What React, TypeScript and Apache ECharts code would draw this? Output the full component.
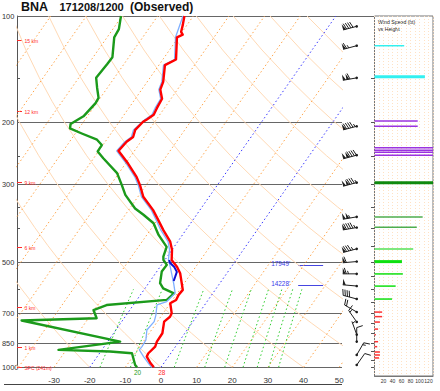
import React, { useEffect, useRef } from 'react';
import * as echarts from 'echarts';

const FONT = '"Liberation Sans", Arial, Helvetica, sans-serif';

// ---------- skew-T scale constants ----------
const SKEW = 30; // °C of x-shift per ln(1000/p)
const X_MIN = -40.4;
const X_MAX = 50.8;

// ---------- axis / reference values ----------
const pressureLevels = [100, 200, 300, 500, 700, 850, 1000];
const minorPressureTicks = [150, 250, 350, 400, 600];
const temperatureTicks = [-30, -20, -10, 0, 10, 20, 30, 40, 50];
const heightLabels = ['15 km', '12 km', '9 km', '6 km', '3 km', '1 km', 'SFC (241m)'];
const heightPressures = [117, 187, 297, 454, 674, 877, 997];
const isotherms = [-110, -100, -90, -80, -70, -60, -50, -40, -30, -10, 10, 20, 30, 40, 50];
const highlightIsotherms = [-20, 0];
const dryAdiabats = [-40, -20, 0, 20, 40, 60, 80, 100, 120, 140, 160, 180, 200, 220]; // theta °C
const adiabatSamples = [1000, 950, 900, 850, 800, 750, 700, 650, 600, 550, 500, 450, 400, 350, 300, 250, 200, 175, 150, 125, 100];
const mixingRatios = [1, 2, 5, 9, 13, 18, 23, 28, 33]; // g/kg
const mixingSamples = [1000, 900, 800, 700, 600];

// ---------- sounding (hPa, °C) ----------
const temperature = [
  [100, -62.5], [106, -61.2], [111, -60.3], [113, -59.3], [115, -60.4], [133, -56.3], [138, -58.3],
  [154, -55.5], [162, -54.8], [172, -52.5], [183, -52.1], [191, -51.7], [197, -52.7], [200, -53.3],
  [211, -53.9], [221, -53.1], [228, -54.0], [242, -54.5], [263, -49.3], [287, -44.3], [303, -41.7],
  [327, -38.5], [357, -33.1], [381, -29.7], [407, -26.3], [439, -22.1], [463, -20.0], [495, -18.1],
  [517, -15.3], [540, -13.1], [602, -9.1], [622, -9.3], [643, -9.0], [657, -10.0], [702, -7.6],
  [718, -7.4], [741, -8.1], [800, -6.3], [845, -6.2], [873, -5.7], [912, -6.3], [932, -6.1],
  [974, -3.7], [1000, -2.0],
];
const dewpoint = [
  [100, -80.3], [109, -78.3], [115, -78.0], [131, -74.6], [137, -74.7], [150, -75.1], [160, -72.9],
  [171, -70.5], [177, -70.3], [193, -71.1], [203, -73.2], [209, -72.5], [216, -68.2], [225, -62.7],
  [233, -60.3], [243, -60.2], [254, -57.3], [280, -50.5], [303, -46.8], [323, -43.9], [353, -38.5],
  [368, -34.9], [389, -30.4], [420, -26.7], [454, -22.1], [484, -21.1], [495, -20.4], [511, -18.5],
  [534, -18.6], [576, -16.8], [596, -14.9], [616, -10.9], [643, -11.6], [665, -27.5], [687, -30.2],
  [725, -27.7], [736, -48.3], [845, -16.5], [892, -32.2], [902, -17.4], [912, -10.9], [985, -7.7],
  [1000, -6.7],
];
const wetBulb = [
  [100, -62.9], [115, -60.8], [133, -56.7], [138, -58.7], [154, -55.9], [162, -55.2], [172, -52.9],
  [183, -52.6], [191, -52.2], [197, -53.2], [211, -54.4], [221, -53.6], [228, -54.5], [242, -55.0],
  [263, -49.8], [287, -44.8], [303, -42.2], [327, -39.0], [357, -33.6], [381, -30.3], [407, -27.0],
  [439, -22.7], [463, -20.7], [495, -19.0], [517, -17.2], [576, -13.0], [615, -10.6], [650, -11.3],
  [664, -13.4], [710, -11.7], [741, -10.9], [783, -11.3], [836, -9.6], [873, -9.4], [892, -9.5],
  [932, -7.0], [974, -4.3], [1000, -2.6],
];
const virtualSegment = [[495, -18.8], [505, -17.9], [518, -16.0], [535, -14.3], [553, -13.8], [568, -13.4]];

// ---------- level annotations ----------
const levelMarkPressures = [511, 583];
const levelMarkLabels = ["17949'", "14228'"];

// ---------- wind speed vs height panel (hPa, kt) ----------
const windBand0to3 = [[696, 17], [717, 17], [743, 12], [778, 8], [807, 3], [845, 8], [873, 6], [904, 12], [922, 12], [940, 10]];
const windBand3to6 = [[500, 61], [542, 63], [587, 47], [639, 39]];
const windBand6to7 = [[460, 86]];
const windBand7to9 = [[373, 107], [399, 94]];
const windBand9 = [[298, 140]];
const windBand9to12 = [[199, 96], [206, 96], [237, 140], [241, 140], [244, 140], [249, 140]];
const windBand12to15 = [[121.5, 66], [149, 112]];
const mandatoryBarLevels = [149, 298, 500];
const panelTicks = [150, 200, 250, 300, 350, 400, 450, 500, 550, 600, 650, 700, 750, 800, 850, 900, 950, 1000];
const speedTicks = [20, 40, 60, 80, 100, 120];

// ---------- wind barbs (hPa, kt, direction deg) ----------
const windBarbs = [
  [107, 90, 255], [121.5, 66, 255], [150, 112, 260], [206, 96, 255], [249, 140, 255], [298, 135, 255],
  [373, 107, 260], [400, 94, 260], [460, 86, 255], [500, 62, 265], [542, 63, 270], [587, 48, 275],
  [639, 40, 285], [696, 18, 300], [743, 13, 325], [807, 4, 340], [845, 9, 0], [922, 13, 30], [985, 10, 35],
];

const sx = (t: number, p: number) => t + SKEW * Math.log(1000 / p);
const toXY = (arr: number[][]) => arr.map(([p, t]) => [sx(t, p), p]);
const tdFromMixing = (w: number, p: number) => {
  const e = (w * p) / (622 + w);
  const l = Math.log(e / 6.112);
  return (243.5 * l) / (17.67 - l);
};
const toF = (c: number) => Math.round((c * 9) / 5 + 32);

const txt = (x: number, y: number, text: string, font: string, fill: string, align = 'left', v = 'middle') => ({
  type: 'text',
  x,
  y,
  style: { text, font, fill, align, verticalAlign: v, textAlign: align, textVerticalAlign: v },
});

function buildOption(): any {
  const series: any[] = [];
  const dash = [1.5, 2.5];

  // dry adiabats
  dryAdiabats.forEach((th) => {
    const thK = th + 273.15;
    series.push({
      type: 'line', xAxisIndex: 0, yAxisIndex: 0, silent: true, symbol: 'none',
      data: adiabatSamples.map((p) => [sx(thK * Math.pow(p / 1000, 0.2857) - 273.15, p), p]),
      lineStyle: { color: '#ffd9b5', width: 1 },
    });
  });
  // isotherms
  isotherms.forEach((t) => {
    series.push({
      type: 'line', xAxisIndex: 0, yAxisIndex: 0, silent: true, symbol: 'none',
      data: [[sx(t, 1000), 1000], [sx(t, 100), 100]],
      lineStyle: { color: '#ffa64d', width: 1, type: dash },
    });
  });
  highlightIsotherms.forEach((t) => {
    series.push({
      type: 'line', xAxisIndex: 0, yAxisIndex: 0, silent: true, symbol: 'none',
      data: [[sx(t, 1000), 1000], [sx(t, 100), 100]],
      lineStyle: { color: '#3a3aff', width: 1, type: dash },
    });
  });
  // mixing ratio lines
  mixingRatios.forEach((w) => {
    series.push({
      type: 'line', xAxisIndex: 0, yAxisIndex: 0, silent: true, symbol: 'none',
      data: mixingSamples.map((p) => [sx(tdFromMixing(w, p), p), p]),
      lineStyle: { color: '#2ecc2e', width: 1, type: dash },
    });
  });

  // pressure lines + labels
  series.push({
    type: 'custom', xAxisIndex: 0, yAxisIndex: 0, silent: true,
    data: pressureLevels.map((p) => [X_MIN, p]),
    renderItem: (params: any, api: any) => {
      const p = api.value(1);
      const a = api.coord([X_MIN, p]);
      const b = api.coord([X_MAX, p]);
      const y = Math.round(a[1]) + 0.5;
      return {
        type: 'group',
        children: [
          { type: 'line', shape: { x1: a[0], y1: y, x2: b[0], y2: y }, style: { stroke: '#666', lineWidth: 1 } },
          txt(a[0] - 15, y, String(pressureLevels[params.dataIndex]), `7.4px ${FONT}`, '#333'),
        ],
      };
    },
  });
  // minor ticks on left axis
  series.push({
    type: 'custom', xAxisIndex: 0, yAxisIndex: 0, silent: true,
    data: minorPressureTicks.map((p) => [X_MIN, p]),
    renderItem: (params: any, api: any) => {
      const a = api.coord([X_MIN, api.value(1)]);
      const y = Math.round(a[1]) + 0.5;
      return { type: 'line', shape: { x1: a[0], y1: y, x2: a[0] + 3, y2: y }, style: { stroke: '#555', lineWidth: 1 } };
    },
  });
  // height labels
  series.push({
    type: 'custom', xAxisIndex: 0, yAxisIndex: 0, silent: true,
    data: heightPressures.map((p) => [X_MIN, p]),
    renderItem: (params: any, api: any) => {
      const a = api.coord([X_MIN, api.value(1)]);
      const y = Math.round(a[1]) + 0.5;
      return {
        type: 'group',
        children: [
          { type: 'line', shape: { x1: a[0], y1: y, x2: a[0] + 5, y2: y }, style: { stroke: '#ff2a2a', lineWidth: 1 } },
          txt(a[0] + 7.5, y, heightLabels[params.dataIndex], `5px ${FONT}`, '#ff2a2a'),
        ],
      };
    },
  });

  // sounding curves
  series.push({
    type: 'line', xAxisIndex: 0, yAxisIndex: 0, silent: true, symbol: 'none',
    data: toXY(dewpoint), lineStyle: { color: '#1b9a1b', width: 2.4, join: 'round' },
  });
  series.push({
    type: 'line', xAxisIndex: 0, yAxisIndex: 0, silent: true, symbol: 'none',
    data: toXY(wetBulb), lineStyle: { color: '#7fb0ff', width: 1.3 },
  });
  series.push({
    type: 'line', xAxisIndex: 0, yAxisIndex: 0, silent: true, symbol: 'none',
    data: toXY(virtualSegment), lineStyle: { color: '#1010d0', width: 2 },
  });
  series.push({
    type: 'line', xAxisIndex: 0, yAxisIndex: 0, silent: true, symbol: 'none',
    data: toXY(temperature), lineStyle: { color: '#ff0000', width: 2.4, join: 'round' },
  });

  // level annotations (blue)
  series.push({
    type: 'custom', xAxisIndex: 0, yAxisIndex: 0, silent: true,
    data: levelMarkPressures.map((p) => [38.5, p]),
    renderItem: (params: any, api: any) => {
      const p = api.value(1);
      const a = api.coord([38.5, p]);
      const b = api.coord([45.5, p]);
      const y = Math.round(a[1]) + 0.5;
      return {
        type: 'group',
        children: [
          { type: 'line', shape: { x1: a[0], y1: y, x2: b[0], y2: y }, style: { stroke: '#4646e0', lineWidth: 1 } },
          txt(a[0] - 8, y - 2.5, levelMarkLabels[params.dataIndex], `6.4px ${FONT}`, '#3a3ae8', 'right'),
        ],
      };
    },
  });

  // surface °F labels
  const sfcT = temperature[temperature.length - 1][1];
  const sfcTd = dewpoint[dewpoint.length - 1][1];
  const sfcLabels = [String(toF(sfcTd)), String(toF(sfcT))];
  const sfcColors = ['#1b9a1b', '#ff2a2a'];
  const sfcShift = [0.5, 8];
  series.push({
    type: 'custom', xAxisIndex: 0, yAxisIndex: 0, silent: true,
    data: [[sx(sfcTd, 1000), 1000], [sx(sfcT, 1000), 1000]],
    renderItem: (params: any, api: any) => {
      const a = api.coord([api.value(0), api.value(1)]);
      const i = params.dataIndex;
      return txt(a[0] + sfcShift[i], a[1] + 4.8, sfcLabels[i], `6.4px ${FONT}`, sfcColors[i], 'center');
    },
  });

  // wind speed bars
  const bands = [
    { data: windBand0to3, color: '#ff3030' },
    { data: windBand3to6, color: '#0fe00f' },
    { data: windBand6to7, color: '#55e055' },
    { data: windBand7to9, color: '#4fae4f' },
    { data: windBand9, color: '#0f8a0f' },
    { data: windBand9to12, color: '#9a33e0' },
    { data: windBand12to15, color: '#33f0f0' },
  ];
  bands.forEach((band) => {
    series.push({
      type: 'custom', xAxisIndex: 1, yAxisIndex: 1, silent: true, clip: true,
      data: band.data.map(([p, v]) => [v, p]),
      renderItem: (params: any, api: any) => {
        const v = Math.min(api.value(0), 130);
        const p = api.value(1);
        const a = api.coord([0, p]);
        const b = api.coord([v, p]);
        const h = mandatoryBarLevels.includes(p) ? 3 : 1.5;
        return { type: 'rect', shape: { x: a[0], y: a[1] - h / 2, width: b[0] - a[0], height: h }, style: { fill: band.color } };
      },
    });
  });
  // panel ticks
  series.push({
    type: 'custom', xAxisIndex: 1, yAxisIndex: 1, silent: true,
    data: panelTicks.map((p) => [0, p]),
    renderItem: (params: any, api: any) => {
      const a = api.coord([0, api.value(1)]);
      const y = Math.round(a[1]) + 0.5;
      return { type: 'line', shape: { x1: a[0] - 3.5, y1: y, x2: a[0], y2: y }, style: { stroke: '#555', lineWidth: 1 } };
    },
  });

  // wind barbs
  series.push({
    type: 'custom', xAxisIndex: 2, yAxisIndex: 2, silent: true,
    data: windBarbs.map(([p, s, d]) => [0.52, p, s, d]),
    renderItem: (params: any, api: any) => {
      const p = api.value(1);
      const spd = api.value(2);
      const dir = api.value(3);
      const c = api.coord([api.value(0), p]);
      const cx = c[0], cy = c[1];
      const rad = (dir * Math.PI) / 180;
      const ux = Math.sin(rad), uy = -Math.cos(rad);
      const px = -uy, py = ux;
      const L = 14, BL = 6;
      const col = '#1e1e1e';
      const tipX = cx + ux * L, tipY = cy + uy * L;
      const children: any[] = [
        { type: 'line', shape: { x1: cx, y1: cy, x2: tipX, y2: tipY }, style: { stroke: col, lineWidth: 1 } },
        { type: 'circle', shape: { cx, cy, r: 1.3 }, style: { fill: col } },
      ];
      const at = (d: number) => [tipX - ux * d, tipY - uy * d];
      let rem = Math.round(spd / 5) * 5;
      let d = 0;
      while (rem >= 50) {
        const A = at(d), B = at(d + 3);
        children.push({ type: 'polygon', shape: { points: [A, B, [A[0] + px * BL, A[1] + py * BL]] }, style: { fill: col } });
        d += 3.6;
        rem -= 50;
      }
      if (d === 0 && rem < 10) d = 2;
      while (rem >= 10) {
        const A = at(d);
        children.push({ type: 'line', shape: { x1: A[0], y1: A[1], x2: A[0] + px * BL + ux * 2, y2: A[1] + py * BL + uy * 2 }, style: { stroke: col, lineWidth: 1 } });
        d += 2.2;
        rem -= 10;
      }
      if (rem >= 5) {
        const A = at(d);
        children.push({ type: 'line', shape: { x1: A[0], y1: A[1], x2: A[0] + px * 3 + ux, y2: A[1] + py * 3 + uy }, style: { stroke: col, lineWidth: 1 } });
      }
      return { type: 'group', children };
    },
  });

  return {
    animation: false,
    backgroundColor: '#ffffff',
    textStyle: { fontFamily: FONT },
    grid: [
      { left: 17, top: 16, width: 325, height: 351.3, show: false },
      { left: 374.5, top: 16, width: 58.5, height: 360, show: true, borderColor: '#777', borderWidth: 1, backgroundColor: 'transparent' },
      { left: 338, top: 16, width: 36, height: 351.3, show: false },
    ],
    xAxis: [
      {
        gridIndex: 0, type: 'value', min: X_MIN, max: X_MAX,
        axisLine: { show: false, onZero: false }, axisTick: { show: false }, splitLine: { show: false },
        axisLabel: { customValues: temperatureTicks, fontSize: 8, color: '#333', margin: 9, fontFamily: FONT },
      },
      {
        gridIndex: 1, type: 'value', min: 0, max: 130, interval: 10,
        axisLine: { show: true, onZero: false, lineStyle: { color: '#777' } }, axisTick: { show: false },
        splitLine: { show: true, lineStyle: { color: '#ffe2c4', width: 1, type: [1, 2] } },
        axisLabel: {
          fontSize: 5, margin: 2, color: '#333', fontFamily: FONT,
          formatter: (v: number) => (speedTicks.includes(v) ? String(v) : ''),
        },
      },
      { gridIndex: 2, type: 'value', min: 0, max: 1, show: false },
    ],
    yAxis: [
      {
        gridIndex: 0, type: 'log', logBase: 10, min: 100, max: 1000, inverse: true,
        axisLine: { show: true, onZero: false, lineStyle: { color: '#555' } }, axisTick: { show: false },
        axisLabel: { show: false }, splitLine: { show: false },
      },
      {
        gridIndex: 1, type: 'log', logBase: 10, min: 100, max: 1058, inverse: true,
        axisLine: { show: false, onZero: false }, axisTick: { show: false }, axisLabel: { show: false }, splitLine: { show: false },
      },
      { gridIndex: 2, type: 'log', logBase: 10, min: 100, max: 1000, inverse: true, show: false },
    ],
    graphic: [
      { type: 'line', shape: { x1: 342, y1: 16.5, x2: 375, y2: 16.5 }, style: { stroke: '#666', lineWidth: 1 }, silent: true },
      { type: 'line', shape: { x1: 4, y1: 384.5, x2: 342, y2: 384.5 }, style: { stroke: '#444', lineWidth: 1 }, silent: true },
      { type: 'text', x: 21, y: 6.5, style: { text: 'BNA', font: `bold 12.5px ${FONT}`, fill: '#111', textVerticalAlign: 'middle', verticalAlign: 'middle' } },
      { type: 'text', x: 59.5, y: 6.5, style: { text: '171208/1200', font: `bold 11px ${FONT}`, fill: '#111', textVerticalAlign: 'middle', verticalAlign: 'middle' } },
      { type: 'text', x: 130, y: 6.5, style: { text: '(Observed)', font: `bold 12px ${FONT}`, fill: '#111', textVerticalAlign: 'middle', verticalAlign: 'middle' } },
      { type: 'text', x: 378, y: 21.5, style: { text: 'Wind Speed (kt)', font: `5.2px ${FONT}`, fill: '#222', textVerticalAlign: 'middle', verticalAlign: 'middle' } },
      { type: 'text', x: 378, y: 29, style: { text: 'vs Height', font: `5.2px ${FONT}`, fill: '#222', textVerticalAlign: 'middle', verticalAlign: 'middle' } },
    ],
    series,
  };
}

export default function App() {
  const ref = useRef<HTMLDivElement>(null);
  useEffect(() => {
    const chart = echarts.init(ref.current as HTMLDivElement, null, { renderer: 'svg' });
    chart.setOption(buildOption());
    return () => chart.dispose();
  }, []);
  return (
    <div
      ref={ref}
      style={{ position: 'fixed', left: 0, top: 0, width: 440, height: 391, background: '#fff' }}
    />
  );
}
